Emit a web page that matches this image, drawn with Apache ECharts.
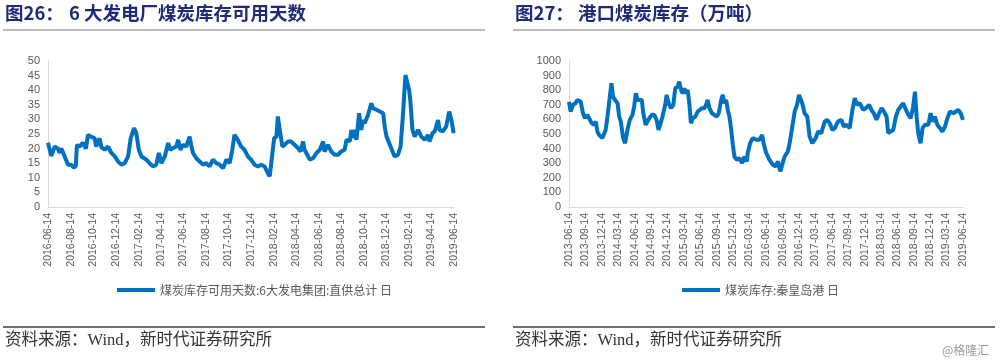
<!DOCTYPE html>
<html>
<head>
<meta charset="utf-8">
<script src="https://cdn.jsdelivr.net/npm/echarts@6/dist/echarts.min.js"></script>
<style>
html,body{margin:0;padding:0;background:#fff;}
#c{width:1000px;height:362px;}
</style>
</head>
<body>
<div id="c"></div>
<script>
// ---------- Data: chart 26 (6大发电集团 煤炭库存可用天数) ----------
const daysDates = ['2016-06-14','2016-06-23','2016-07-02','2016-07-11','2016-07-15','2016-07-20','2016-07-29','2016-08-02','2016-08-07','2016-08-16','2016-08-22','2016-08-28','2016-08-31','2016-09-07','2016-09-16','2016-09-24','2016-09-30','2016-10-09','2016-10-18','2016-10-22','2016-10-31','2016-11-05','2016-11-14','2016-11-23','2016-12-02','2016-12-11','2016-12-20','2016-12-29','2017-01-07','2017-01-16','2017-01-23','2017-02-01','2017-02-07','2017-02-14','2017-02-21','2017-03-06','2017-03-15','2017-03-24','2017-04-02','2017-04-09','2017-04-16','2017-04-25','2017-05-04','2017-05-10','2017-05-17','2017-05-26','2017-05-31','2017-06-06','2017-06-13','2017-06-22','2017-07-01','2017-07-06','2017-07-10','2017-07-19','2017-07-28','2017-08-06','2017-08-15','2017-08-24','2017-09-02','2017-09-11','2017-09-20','2017-09-29','2017-10-08','2017-10-17','2017-10-24','2017-10-30','2017-11-08','2017-11-17','2017-11-26','2017-12-05','2017-12-14','2017-12-23','2018-01-01','2018-01-10','2018-01-19','2018-01-28','2018-02-02','2018-02-06','2018-02-14','2018-02-20','2018-02-24','2018-03-01','2018-03-08','2018-03-14','2018-03-23','2018-04-01','2018-04-10','2018-04-19','2018-04-26','2018-05-03','2018-05-07','2018-05-12','2018-05-21','2018-05-30','2018-06-08','2018-06-17','2018-06-26','2018-06-30','2018-07-09','2018-07-18','2018-07-27','2018-08-05','2018-08-14','2018-08-23','2018-08-28','2018-09-06','2018-09-10','2018-09-15','2018-09-19','2018-09-24','2018-10-01','2018-10-07','2018-10-12','2018-10-16','2018-10-25','2018-11-03','2018-11-08','2018-11-17','2018-11-26','2018-12-05','2018-12-09','2018-12-14','2018-12-23','2019-01-01','2019-01-05','2019-01-14','2019-01-21','2019-01-27','2019-02-03','2019-02-07','2019-02-13','2019-02-16','2019-02-22','2019-02-28','2019-03-09','2019-03-18','2019-03-27','2019-04-05','2019-04-09','2019-04-17','2019-04-23','2019-05-02','2019-05-06','2019-05-15','2019-05-24','2019-06-01','2019-06-07','2019-06-13'];
const daysValues = [22,17.5,20.7,20,18.5,20,17.3,16,14.5,14.5,13.5,14,21.3,20.7,22,20,24.7,24,23.5,20.7,23.5,20.5,19.6,20.7,18.5,17.3,15.6,14.5,15,17.3,23.5,27,25.3,19.6,17.3,16.2,15,13.9,14.5,18.5,15,17.3,21.9,19.6,20.2,20.7,23,19.6,21.3,20.7,24.1,20.7,18.5,16.7,15.6,14.5,15,13.9,16.2,15,14.5,13.3,16.2,15,19.6,24.7,23,20.7,19.6,17.3,16.2,14.5,13.9,14.5,13.9,11.6,10.5,11,23.6,24,31,26.4,20.7,21.3,22.4,22.4,21.3,20.2,19,22.4,19.6,20,16.2,16.7,18.5,19.6,22.4,19,21.3,19,17.9,17.9,19,19.6,23,22.5,26.4,23.6,26.4,23,32.1,26.4,29.8,28.7,31.5,35.5,33.8,33.3,32.7,32.1,27.6,24.1,21.3,18.5,17.3,17.9,20.7,31,45.2,45.2,40.1,36.7,26.4,24.1,26.4,24.1,23,24.7,22.4,25.3,25.9,29.8,26.4,25.9,27.6,32.7,29.8,25.3];
const daysTicks = ['2016-06-14','2016-08-14','2016-10-14','2016-12-14','2017-02-14','2017-04-14','2017-06-14','2017-08-14','2017-10-14','2017-12-14','2018-02-14','2018-04-14','2018-06-14','2018-08-14','2018-10-14','2018-12-14','2019-02-14','2019-04-14','2019-06-14'];
const daysName = '煤炭库存可用天数:6大发电集团:直供总计 日';

// ---------- Data: chart 27 (秦皇岛港 煤炭库存, 万吨) ----------
const portDates = ['2013-06-14','2013-06-23','2013-07-06','2013-07-21','2013-07-30','2013-08-09','2013-08-18','2013-08-31','2013-09-11','2013-09-24','2013-10-04','2013-10-18','2013-10-31','2013-11-10','2013-11-19','2013-11-28','2013-12-08','2013-12-17','2013-12-26','2014-01-04','2014-01-14','2014-01-27','2014-02-05','2014-02-14','2014-02-25','2014-03-11','2014-03-20','2014-03-29','2014-04-11','2014-04-22','2014-05-05','2014-05-18','2014-06-02','2014-06-11','2014-06-21','2014-06-30','2014-07-09','2014-07-24','2014-08-01','2014-08-14','2014-08-24','2014-09-03','2014-09-18','2014-10-01','2014-10-14','2014-10-25','2014-11-03','2014-11-16','2014-12-01','2014-12-09','2014-12-20','2015-01-02','2015-01-15','2015-01-26','2015-02-08','2015-02-17','2015-02-27','2015-03-08','2015-03-17','2015-03-26','2015-04-05','2015-04-14','2015-04-23','2015-05-03','2015-05-18','2015-05-31','2015-06-09','2015-06-24','2015-07-07','2015-07-16','2015-07-25','2015-08-04','2015-08-18','2015-08-31','2015-09-14','2015-09-25','2015-10-08','2015-10-17','2015-10-26','2015-11-05','2015-11-14','2015-11-23','2015-12-02','2015-12-12','2015-12-21','2016-01-03','2016-01-18','2016-02-02','2016-02-15','2016-02-28','2016-03-04','2016-03-17','2016-04-01','2016-04-20','2016-05-08','2016-05-23','2016-05-31','2016-06-15','2016-07-03','2016-07-22','2016-08-06','2016-08-19','2016-09-01','2016-09-12','2016-09-25','2016-10-13','2016-10-23','2016-11-07','2016-11-20','2016-12-03','2016-12-14','2016-12-21','2017-01-01','2017-01-14','2017-01-29','2017-02-11','2017-02-26','2017-03-17','2017-03-30','2017-04-17','2017-05-06','2017-05-19','2017-06-03','2017-06-18','2017-07-01','2017-07-19','2017-08-07','2017-08-20','2017-09-04','2017-09-22','2017-10-07','2017-10-20','2017-11-02','2017-11-17','2017-12-06','2017-12-21','2018-01-08','2018-01-21','2018-02-03','2018-02-18','2018-03-05','2018-03-18','2018-03-31','2018-04-15','2018-04-24','2018-05-07','2018-05-22','2018-06-06','2018-06-19','2018-07-02','2018-07-17','2018-08-01','2018-08-14','2018-08-27','2018-09-10','2018-09-20','2018-09-29','2018-10-08','2018-10-21','2018-11-01','2018-11-15','2018-12-03','2018-12-16','2018-12-27','2019-01-09','2019-01-22','2019-02-06','2019-02-19','2019-03-06','2019-03-19','2019-04-03','2019-04-21','2019-05-06','2019-05-19','2019-06-01','2019-06-14'];
const portValues = [720,654,700,711,733,745,722,642,608,631,620,574,563,585,517,494,483,472,483,528,620,756,847,756,733,711,620,585,472,437,528,597,631,688,779,733,745,733,642,563,551,608,631,631,597,528,563,620,700,768,711,677,700,813,825,859,802,779,813,779,802,711,574,608,620,654,642,677,677,700,733,677,642,631,620,642,733,768,711,733,665,620,540,426,346,323,335,301,346,312,369,437,472,460,460,494,437,369,323,289,278,312,244,255,346,380,437,551,654,700,768,779,711,642,620,483,437,472,517,506,585,597,574,528,540,585,597,551,563,540,665,745,700,711,665,677,700,665,642,597,642,677,654,620,506,517,528,620,665,688,711,665,631,608,688,790,620,506,437,540,563,563,642,585,620,563,540,517,551,608,654,642,654,665,642,597];
const portTicks = ['2013-06-14','2013-09-14','2013-12-14','2014-03-14','2014-06-14','2014-09-14','2014-12-14','2015-03-14','2015-06-14','2015-09-14','2015-12-14','2016-03-14','2016-06-14','2016-09-14','2016-12-14','2017-03-14','2017-06-14','2017-09-14','2017-12-14','2018-03-14','2018-06-14','2018-09-14','2018-12-14','2019-03-14','2019-06-14'];
const portName = '煤炭库存:秦皇岛港 日';

const titleL = ['图26：', '6 大发电厂煤炭库存可用天数'];
const titleR = ['图27：', '港口煤炭库存（万吨）'];
const sourceText = '资料来源：Wind，新时代证券研究所';
const watermark = '@格隆汇';

// ---------- build ----------
const ts = s => { const p = s.split('-').map(Number); return Date.UTC(p[0], p[1] - 1, p[2]); };
const pairs = (d, v) => d.map((x, i) => [ts(x), v[i]]);
const lineColor = '#0070C0';
const axisGray = '#D9D9D9';
const labelGray = '#595959';

function xAxisFor(ticks, gridIndex) {
  const tv = ticks.map(ts);
  const map = {};
  ticks.forEach((t, i) => { map[tv[i]] = t; });
  return {
    type: 'value', gridIndex, scale: true,
    min: tv[0], max: tv[tv.length - 1],
    axisLine: { show: true, onZero: false, lineStyle: { color: axisGray, width: 1 } },
    axisTick: { show: false },
    splitLine: { show: false },
    axisLabel: {
      customValues: tv, rotate: 90, margin: 6,
      color: labelGray, fontSize: 10.5, fontFamily: 'Liberation Sans, Arial, sans-serif',
      formatter: v => (map[v] !== undefined ? map[v] : ''),
      showMinLabel: true, showMaxLabel: true
    }
  };
}
function yAxisFor(max, interval, gridIndex) {
  return {
    type: 'value', gridIndex, min: 0, max, interval,
    axisLine: { show: true, lineStyle: { color: axisGray, width: 1 } },
    axisTick: { show: false },
    splitLine: { show: false },
    axisLabel: { color: labelGray, fontSize: 11, margin: 8, fontFamily: 'Liberation Sans, Arial, sans-serif',
      formatter: v => String(v) }
  };
}

const titleFont = 'bold 18.5px "Noto Sans CJK SC", sans-serif';
const titleColor = '#1F2A78';
const srcFont = '16.5px "Liberation Serif", "Noto Sans CJK SC", serif';
const legendText = { color: labelGray, fontSize: 12, fontFamily: '"Noto Sans CJK SC", sans-serif' };

const chart = echarts.init(document.getElementById('c'), null, { renderer: 'canvas' });
chart.setOption({
  backgroundColor: '#fff',
  animation: false,
  grid: [
    { left: 48, top: 61, width: 406, height: 146 },
    { left: 569, top: 61, width: 394, height: 146 }
  ],
  xAxis: [xAxisFor(daysTicks, 0), xAxisFor(portTicks, 1)],
  yAxis: [yAxisFor(50, 5, 0), yAxisFor(1000, 100, 1)],
  legend: [
    { data: [daysName], left: 117, top: 284, padding: 0, icon: 'rect', itemWidth: 38, itemHeight: 4, textStyle: legendText },
    { data: [portName], left: 682, top: 284, padding: 0, icon: 'rect', itemWidth: 38, itemHeight: 4, textStyle: legendText }
  ],
  series: [
    { name: daysName, type: 'line', xAxisIndex: 0, yAxisIndex: 0, data: pairs(daysDates, daysValues),
      showSymbol: false, lineStyle: { color: lineColor, width: 4 }, itemStyle: { color: lineColor } },
    { name: portName, type: 'line', xAxisIndex: 1, yAxisIndex: 1, data: pairs(portDates, portValues),
      showSymbol: false, lineStyle: { color: lineColor, width: 4 }, itemStyle: { color: lineColor } }
  ],
  graphic: [
    { type: 'text', left: 5, top: 4, style: { text: titleL[0], font: titleFont, fill: titleColor } },
    { type: 'text', left: 69, top: 4, style: { text: titleL[1], font: titleFont, fill: titleColor } },
    { type: 'text', left: 515, top: 4, style: { text: titleR[0], font: titleFont, fill: titleColor } },
    { type: 'text', left: 578, top: 4, style: { text: titleR[1], font: titleFont, fill: titleColor } },
    { type: 'line', shape: { x1: 3, y1: 30, x2: 485, y2: 30 }, style: { stroke: '#A6A6A6', lineWidth: 1.5 } },
    { type: 'line', shape: { x1: 513, y1: 30, x2: 995, y2: 30 }, style: { stroke: '#A6A6A6', lineWidth: 1.5 } },
    { type: 'line', shape: { x1: 3, y1: 327, x2: 485, y2: 327 }, style: { stroke: '#404040', lineWidth: 1.5 } },
    { type: 'line', shape: { x1: 513, y1: 327, x2: 995, y2: 327 }, style: { stroke: '#404040', lineWidth: 1.5 } },
    { type: 'text', left: 5, top: 332, style: { text: sourceText, font: srcFont, fill: '#333' } },
    { type: 'text', left: 515, top: 332, style: { text: sourceText, font: srcFont, fill: '#333' } },
    { type: 'text', left: 942, top: 344, style: { text: watermark, font: '12px "Noto Sans CJK SC", sans-serif', fill: '#9a9a9a' } }
  ]
});
</script>
</body>
</html>
